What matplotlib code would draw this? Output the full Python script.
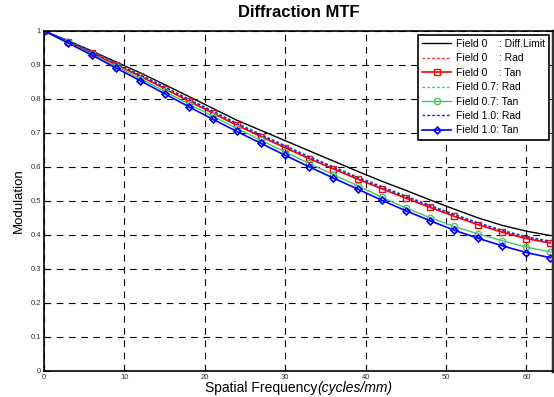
import matplotlib
matplotlib.use('Agg')
import matplotlib.pyplot as plt

plt.rcParams['font.family'] = ['Liberation Sans', 'DejaVu Sans']

# frecuencias espaciales (ciclos/mm)
freq = [0, 3, 6, 9, 12, 15, 18, 21, 24, 27, 30, 33, 36, 39, 42, 45, 48, 51, 54, 57, 60, 63]

diff_limit = [1.0, 0.971, 0.940, 0.908, 0.876, 0.842, 0.807, 0.772, 0.737, 0.707, 0.677, 0.647,
              0.617, 0.587, 0.558, 0.531, 0.503, 0.476, 0.450, 0.428, 0.411, 0.398]
f0_tan = [1.0, 0.968, 0.934, 0.900, 0.866, 0.830, 0.793, 0.758, 0.722, 0.689, 0.656, 0.624,
          0.594, 0.564, 0.536, 0.508, 0.481, 0.455, 0.430, 0.408, 0.389, 0.376]
f0_rad = [1.0, 0.969, 0.936, 0.903, 0.869, 0.833, 0.796, 0.761, 0.725, 0.692, 0.659, 0.627,
          0.597, 0.567, 0.539, 0.511, 0.484, 0.458, 0.433, 0.411, 0.392, 0.379]
f07_rad = [1.0, 0.970, 0.938, 0.905, 0.872, 0.836, 0.800, 0.765, 0.729, 0.696, 0.663, 0.631,
           0.601, 0.571, 0.543, 0.515, 0.488, 0.461, 0.436, 0.414, 0.395, 0.382]
f07_tan = [1.0, 0.966, 0.931, 0.895, 0.859, 0.822, 0.785, 0.749, 0.713, 0.678, 0.644, 0.610,
           0.577, 0.545, 0.511, 0.479, 0.451, 0.425, 0.403, 0.383, 0.364, 0.350]
f10_rad = [1.0, 0.969, 0.937, 0.904, 0.870, 0.835, 0.798, 0.763, 0.727, 0.694, 0.661, 0.629,
           0.599, 0.569, 0.541, 0.513, 0.486, 0.460, 0.435, 0.413, 0.394, 0.381]
f10_tan = [1.0, 0.964, 0.928, 0.890, 0.853, 0.815, 0.777, 0.740, 0.704, 0.669, 0.634, 0.600,
           0.567, 0.535, 0.502, 0.471, 0.442, 0.414, 0.390, 0.368, 0.348, 0.333]

etiquetas = ['Field 0    : Diff.Limit', 'Field 0    : Rad', 'Field 0    : Tan',
             'Field 0.7: Rad', 'Field 0.7: Tan', 'Field 1.0: Rad', 'Field 1.0: Tan']

xticks = [0, 10, 20, 30, 40, 50, 60]
yticks = [0, 0.1, 0.2, 0.3, 0.4, 0.5, 0.6, 0.7, 0.8, 0.9, 1]
ytick_labels = ['0', '0.1', '0.2', '0.3', '0.4', '0.5', '0.6', '0.7', '0.8', '0.9', '1']

fig = plt.figure(figsize=(5.54, 3.97), dpi=100)
ax = fig.add_axes([0.0794, 0.0655, 0.9186, 0.857])

verde = '#4cc26a'
ax.plot(freq, diff_limit, color='k', lw=1.0, label=etiquetas[0])
ax.plot(freq, f0_rad, color='#ff3030', lw=1.0, ls=(0, (2, 1.5)), label=etiquetas[1])
ax.plot(freq, f0_tan, color='red', lw=1.2, marker='s', ms=5, mfc='none', mew=1, label=etiquetas[2])
ax.plot(freq, f07_rad, color=verde, lw=1.0, ls=(0, (2, 1.5)), label=etiquetas[3])
ax.plot(freq, f07_tan, color=verde, lw=1.0, marker='o', ms=4.5, mfc='none', mew=1, label=etiquetas[4])
ax.plot(freq, f10_rad, color='#2020ff', lw=1.0, ls=(0, (2, 1.5)), label=etiquetas[5])
ax.plot(freq, f10_tan, color='blue', lw=1.2, marker='D', ms=3.5, mfc='none', mew=1.2, label=etiquetas[6])

ax.set_xlim(0, 63.3)
ax.set_ylim(0, 1)
ax.set_xticks(xticks)
ax.set_yticks(yticks)
ax.set_yticklabels(ytick_labels)
ax.tick_params(direction='in', length=4, labelsize=5.5, labelcolor='#333333', pad=2)
ax.grid(True, color='k', ls=(0, (6, 5)), lw=0.8)

for lado in ['top', 'left', 'bottom']:
    ax.spines[lado].set_linewidth(1.2)
ax.spines['right'].set_linewidth(2.5)
ax.spines['right'].set_color('#333333')

ax.set_title('Diffraction MTF', fontsize=12, fontweight='bold', pad=10)
ax.set_ylabel('Modulation', fontsize=9.5, labelpad=4)
fig.text(0.572, 0.022, 'Spatial Frequency', fontsize=10, ha='right', va='center')
fig.text(0.572, 0.022, '(cycles/mm)', fontsize=10, style='italic', ha='left', va='center')

leg = ax.legend(loc='upper right', fontsize=7.5, frameon=True, fancybox=False,
                edgecolor='k', framealpha=1, borderpad=0.4, labelspacing=0.42,
                handlelength=2.8, handletextpad=0.4, borderaxespad=0.4)
leg.get_frame().set_linewidth(1.2)

fig.savefig('out.png', dpi=100)
